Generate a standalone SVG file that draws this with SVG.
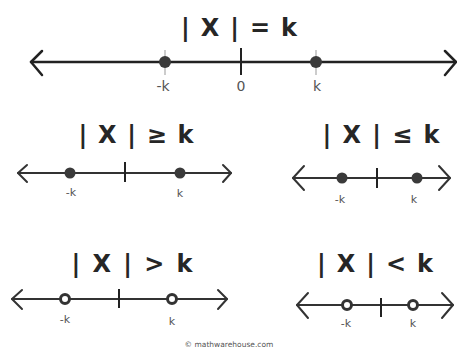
<svg xmlns="http://www.w3.org/2000/svg" width="457" height="352" viewBox="0 0 457 352">
<style>
.title{font-family:"DejaVu Sans",Verdana,sans-serif;font-weight:bold;fill:#262626;text-anchor:middle;font-size:24px}
.lbl{font-family:"DejaVu Sans",Verdana,sans-serif;fill:#555;text-anchor:middle}
.axis{stroke:#222;stroke-width:2.5;fill:none;stroke-linecap:round;stroke-linejoin:round}
.axis2{stroke:#333;stroke-width:2;fill:none;stroke-linecap:round;stroke-linejoin:round}
.tick{stroke:#222;stroke-width:2}
.gtick{stroke:#aaa;stroke-width:1.2}
.dot{fill:#3a3a3a}
.open{fill:#fff;stroke:#333;stroke-width:3}
</style>
<rect width="457" height="352" fill="#fff"/>

<g id="eq">
<text class="title" x="239" y="36" textLength="116" lengthAdjust="spacing" xml:space="preserve">| X | = k</text>
<g class="axis"><line x1="31" y1="62" x2="456" y2="62"/><polyline points="42,51 31,62 42,75"/><polyline points="445,51 456,62 445,75"/></g>
<line class="gtick" x1="165" y1="50" x2="165" y2="75"/>
<line class="gtick" x1="316" y1="50" x2="316" y2="75"/>
<line class="tick" x1="241" y1="48" x2="241" y2="75"/>
<circle class="dot" cx="165" cy="62" r="6"/>
<circle class="dot" cx="316" cy="62" r="6"/>
<text class="lbl" x="163" y="91" font-size="14" fill="#333">-k</text>
<text class="lbl" x="241" y="91" font-size="14" fill="#333">0</text>
<text class="lbl" x="317" y="91" font-size="14" fill="#333">k</text>
</g>

<g id="ge">
<text class="title" x="136" y="143" textLength="115" lengthAdjust="spacing" xml:space="preserve">| X | ≥ k</text>
<g class="axis2"><line x1="18" y1="173" x2="231" y2="173"/><polyline points="27,165 18,173 27,182"/><polyline points="223,165 231,173 223,182"/></g>
<line class="tick" x1="125" y1="162" x2="125" y2="182"/>
<circle class="dot" cx="70" cy="173" r="5.5"/>
<circle class="dot" cx="180" cy="173" r="5.5"/>
<text class="lbl" x="71" y="196" font-size="11">-k</text>
<text class="lbl" x="180" y="197" font-size="11">k</text>
</g>

<g id="le">
<text class="title" x="381" y="143" textLength="117" lengthAdjust="spacing" xml:space="preserve">| X | ≤ k</text>
<g class="axis2"><line x1="293" y1="178" x2="450" y2="178"/><polyline points="304,166 293,178 304,190"/><polyline points="439,166 450,178 439,190"/></g>
<line class="tick" x1="377" y1="168" x2="377" y2="188"/>
<circle class="dot" cx="342" cy="178" r="5.5"/>
<circle class="dot" cx="417" cy="178" r="5.5"/>
<text class="lbl" x="340" y="203" font-size="11">-k</text>
<text class="lbl" x="414" y="203" font-size="11">k</text>
</g>

<g id="gt">
<text class="title" x="132" y="272" textLength="121" lengthAdjust="spacing" xml:space="preserve">| X | &gt; k</text>
<g class="axis2"><line x1="12" y1="299" x2="227" y2="299"/><polyline points="22,290 12,299 22,309"/><polyline points="218,290 227,299 218,309"/></g>
<line class="tick" x1="119" y1="289" x2="119" y2="308"/>
<circle class="open" cx="65" cy="299" r="4.5"/>
<circle class="open" cx="172" cy="299" r="4.5"/>
<text class="lbl" x="65" y="323" font-size="11">-k</text>
<text class="lbl" x="172" y="325" font-size="11">k</text>
</g>

<g id="lt">
<text class="title" x="375" y="272" textLength="116" lengthAdjust="spacing" xml:space="preserve">| X | &lt; k</text>
<g class="axis2"><line x1="297" y1="305" x2="453" y2="305"/><polyline points="308,293 297,305 308,318"/><polyline points="442,293 453,305 442,318"/></g>
<line class="tick" x1="381" y1="298" x2="381" y2="317"/>
<circle class="open" cx="347" cy="305" r="4.5"/>
<circle class="open" cx="413" cy="305" r="4.5"/>
<text class="lbl" x="346" y="327" font-size="11">-k</text>
<text class="lbl" x="413" y="327" font-size="11">k</text>
</g>

<text class="lbl" x="229" y="347" font-size="7.5">© mathwarehouse.com</text>
</svg>
